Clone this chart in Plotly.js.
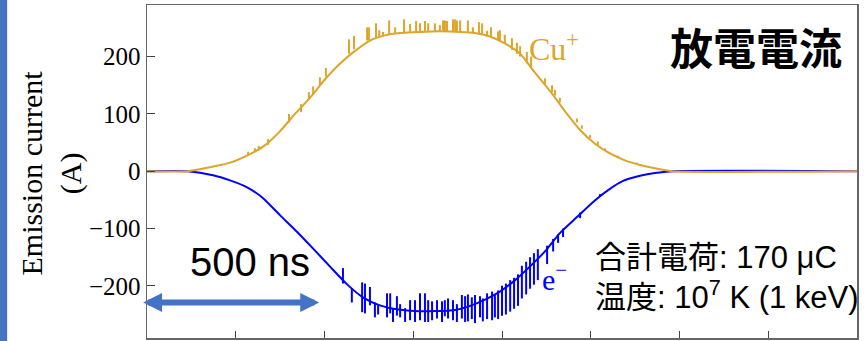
<!DOCTYPE html>
<html>
<head>
<meta charset="utf-8">
<script src="https://cdn.plot.ly/plotly-3.0.1.min.js"></script>
<style>
  html, body { margin: 0; padding: 0; background: #ffffff; }
  #chart { width: 864px; height: 341px; }
</style>
</head>
<body>
<div id="chart"></div>
<script>
// Discharge current: ion (Cu+) and electron (e-) emission, time in ns, current in A.

// Smooth envelope of the Cu+ emission current
const cuTime    = [0, 115, 177, 234, 290, 332, 375, 417, 459, 501, 544, 586, 628, 670, 713, 769, 825, 882, 924, 966, 1008, 1051, 1093, 1135, 1177, 1220, 1262, 1304, 1346, 1389, 1431, 1479, 2000];
const cuCurrent = [0, 0, 7, 15, 30, 45, 70, 100, 128, 160, 188, 210, 228, 237, 241, 243, 244, 243, 241, 235, 223, 205, 172, 140, 105, 72, 48, 31, 19, 11, 5, 0, 0];

// Smooth envelope of the electron emission current
const eTime    = [0, 115, 186, 234, 282, 327, 375, 423, 468, 515, 563, 608, 656, 704, 755, 811, 868, 910, 952, 994, 1037, 1079, 1121, 1163, 1211, 1256, 1299, 1341, 1389, 1431, 1479, 2000];
const eCurrent = [0, 0, -7, -16, -28, -47, -77, -106, -135, -166, -197, -220, -234, -241, -244, -244, -242, -235, -224, -210, -190, -166, -140, -108, -80, -54, -33, -17, -8, -3, 0, 0];

// Short spikes on the Cu+ signal: time, lower and upper current
const cuSpikeTime = [285, 304, 315, 341, 400, 434, 456, 468, 487, 504, 569, 583, 620, 625, 645, 654, 665, 682, 699, 724, 741, 758, 769, 783, 792, 811, 825, 834, 839, 845, 862, 868, 873, 882, 904, 918, 935, 944, 958, 969, 989, 994, 1008, 1028, 1042, 1051, 1070, 1082, 1121, 1141, 1149, 1163, 1211, 1225, 1248, 1270, 1290, 1327, 1380];
const cuSpikeLow  = [28, 33, 36, 46, 85, 103, 125, 133, 150, 165, 205, 213, 228, 229, 234, 235, 237, 239, 240, 242, 243, 243, 243, 243, 243, 243, 243, 243, 243, 243, 243, 243, 243, 243, 242, 241, 239, 238, 236, 234, 228, 227, 222, 212, 205, 200, 188, 180, 152, 138, 132, 120, 85, 74, 58, 46, 36, 24, 13];
const cuSpikeHigh = [34, 40, 44, 56, 100, 117, 138, 148, 164, 180, 230, 236, 251, 251, 258, 246, 243, 263, 251, 265, 257, 262, 258, 262, 258, 258, 255, 263, 263, 262, 265, 265, 263, 263, 263, 251, 260, 258, 245, 251, 244, 246, 238, 232, 224, 218, 208, 200, 162, 150, 142, 128, 92, 80, 63, 52, 40, 27, 15];

// Noise spikes on the electron signal: time, lower and upper current
const eSpikeTime = [552, 577, 606, 614, 628, 642, 651, 676, 685, 693, 704, 713, 727, 741, 755, 769, 783, 792, 803, 817, 831, 839, 848, 862, 873, 887, 896, 904, 915, 924, 938, 946, 958, 972, 980, 989, 1000, 1011, 1023, 1034, 1045, 1056, 1068, 1079, 1090, 1101, 1127, 1144, 1158, 1172, 1220, 1276];
const eSpikeLow  = [-196, -229, -246, -248, -234, -255, -250, -255, -248, -263, -252, -255, -263, -260, -263, -260, -263, -263, -260, -257, -263, -253, -257, -260, -263, -257, -263, -262, -258, -265, -255, -262, -258, -260, -255, -258, -252, -250, -245, -240, -235, -222, -215, -205, -198, -190, -162, -140, -125, -115, -82, -45];
const eSpikeHigh = [-169, -204, -194, -196, -202, -229, -232, -213, -213, -239, -218, -232, -239, -225, -225, -213, -213, -225, -227, -225, -227, -225, -222, -225, -232, -216, -218, -215, -220, -216, -218, -222, -213, -210, -215, -208, -200, -196, -190, -186, -180, -165, -158, -150, -143, -136, -130, -118, -110, -100, -72, -40];

const yTicks = [-200, -100, 0, 100, 200];

const CU_COLOR = '#DDA52A';
const E_COLOR = '#0000FF';
const SLIDE_BLUE = '#4472C4';

// Turn (time, low, high) lists into vertical segments separated by gaps
function segments(t, lo, hi) {
  const xs = [], ys = [];
  for (let i = 0; i < t.length; i++) {
    xs.push(t[i], t[i], null);
    ys.push(lo[i], hi[i], null);
  }
  return { x: xs, y: ys };
}

const eSeg = segments(eSpikeTime, eSpikeLow, eSpikeHigh);
const cuSeg = segments(cuSpikeTime, cuSpikeLow, cuSpikeHigh);

const traces = [
  { x: eSeg.x, y: eSeg.y, mode: 'lines', line: { color: E_COLOR, width: 2 }, hoverinfo: 'skip', showlegend: false },
  { x: eTime, y: eCurrent, mode: 'lines', line: { color: E_COLOR, width: 2, shape: 'spline', smoothing: 0.6 }, name: 'e−', showlegend: false },
  { x: cuSeg.x, y: cuSeg.y, mode: 'lines', line: { color: CU_COLOR, width: 2 }, hoverinfo: 'skip', showlegend: false },
  { x: cuTime, y: cuCurrent, mode: 'lines', line: { color: CU_COLOR, width: 2, shape: 'spline', smoothing: 0.6 }, name: 'Cu+', showlegend: false }
];

const serif = 'Liberation Serif, Times New Roman, serif';
const sans = 'Liberation Sans, Arial, Noto Sans CJK JP, sans-serif';
const cjk = 'Noto Sans CJK JP, sans-serif';

const layout = {
  width: 864,
  height: 341,
  margin: { l: 147, r: 7, t: 5, b: 3, pad: 0 },
  paper_bgcolor: '#ffffff',
  plot_bgcolor: '#ffffff',
  showlegend: false,
  xaxis: {
    range: [0, 2000],
    tick0: 0,
    dtick: 250,
    ticks: 'inside',
    ticklen: 7,
    tickcolor: '#444',
    showticklabels: false,
    showgrid: false,
    zeroline: false,
    showline: true,
    mirror: true,
    linecolor: '#666',
    linewidth: 1.5
  },
  yaxis: {
    range: [-291, 290],
    tickvals: yTicks,
    ticks: 'inside',
    ticklen: 8,
    tickcolor: '#444',
    tickfont: { family: serif, size: 25, color: '#000' },
    showgrid: false,
    zeroline: false,
    showline: true,
    mirror: true,
    linecolor: '#666',
    linewidth: 1.5
  },
  shapes: [
    // slide accent bar on the far left
    { type: 'rect', xref: 'paper', yref: 'paper', x0: -0.207, x1: -0.197, y0: -0.02, y1: 1.03,
      fillcolor: SLIDE_BLUE, line: { width: 0 }, layer: 'below' }
  ],
  annotations: [
    { xref: 'paper', yref: 'paper', x: -0.1352, y: 0.494, xanchor: 'center', yanchor: 'middle',
      textangle: -90, showarrow: false, text: 'Emission current<br>(A)',
      font: { family: serif, size: 30, color: '#000' } },
    { xref: 'paper', yref: 'paper', x: 0.8577, y: 0.877, xanchor: 'center', yanchor: 'middle',
      showarrow: false, text: '放電電流', font: { family: cjk, size: 43, color: '#000', weight: 'bold' } },
    { xref: 'x', yref: 'y', x: 1070, y: 216, xanchor: 'left', yanchor: 'middle', showarrow: false,
      text: 'Cu<sup>+</sup>', font: { family: serif, size: 32, color: CU_COLOR } },
    { xref: 'x', yref: 'y', x: 1107, y: -184, xanchor: 'left', yanchor: 'middle', showarrow: false,
      text: 'e<sup>−</sup>', font: { family: serif, size: 30, color: E_COLOR } },
    { xref: 'paper', yref: 'paper', x: 0.1444, y: 0.2297, xanchor: 'center', yanchor: 'middle', showarrow: false,
      text: '500 ns', font: { family: sans, size: 40, color: '#000' } },
    // 500 ns scale arrow
    { xref: 'x', yref: 'y', axref: 'x', ayref: 'y', x: 485, y: -229, ax: -15, ay: -229,
      text: ' ', font: { size: 1 }, showarrow: true, arrowside: 'end+start',
      arrowhead: 2, startarrowhead: 2, arrowsize: 0.63, startarrowsize: 0.63, arrowwidth: 6, arrowcolor: SLIDE_BLUE },
    { xref: 'paper', yref: 'paper', x: 0.628, y: 0.243, xanchor: 'left', yanchor: 'middle', showarrow: false,
      text: '合計電荷: 170 μC', font: { family: sans, size: 31, color: '#000' } },
    { xref: 'paper', yref: 'paper', x: 0.628, y: 0.129, xanchor: 'left', yanchor: 'middle', showarrow: false,
      text: '温度: 10<sup>7</sup> K (1 keV)', font: { family: sans, size: 31, color: '#000' } }
  ]
};

Plotly.newPlot('chart', traces, layout, { displayModeBar: false, staticPlot: true });
</script>
</body>
</html>
